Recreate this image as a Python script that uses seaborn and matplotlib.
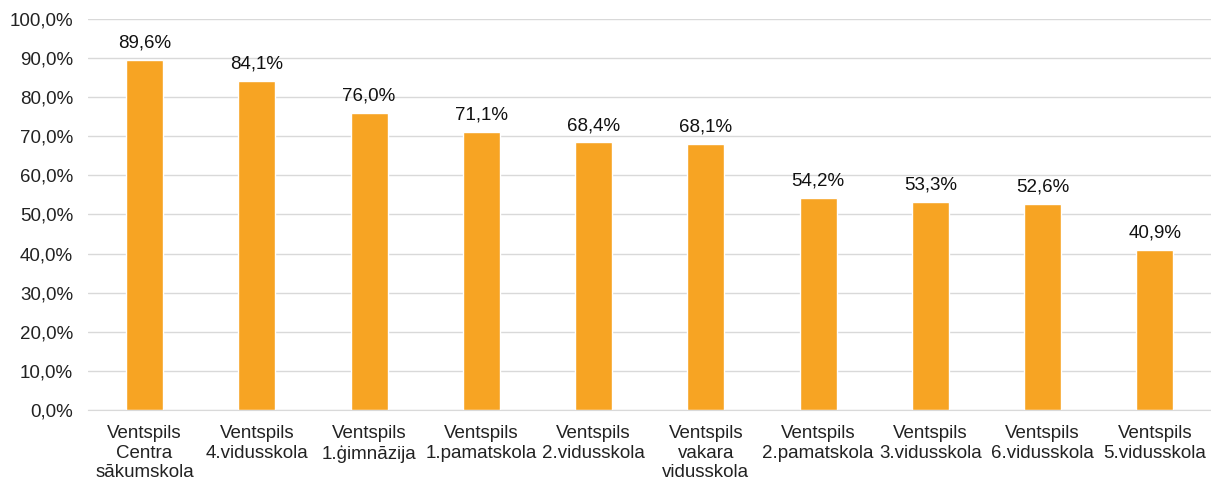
import matplotlib
matplotlib.use("Agg")
import matplotlib.pyplot as plt
import seaborn as sns
import pandas as pd
from matplotlib.ticker import FuncFormatter

# dati
skolas = ["Ventspils\nCentra\nsākumskola", "Ventspils\n4.vidusskola", "Ventspils\n1.ģimnāzija",
          "Ventspils\n1.pamatskola", "Ventspils\n2.vidusskola", "Ventspils\nvakara\nvidusskola",
          "Ventspils\n2.pamatskola", "Ventspils\n3.vidusskola", "Ventspils\n6.vidusskola",
          "Ventspils\n5.vidusskola"]
vertibas = [89.6, 84.1, 76.0, 71.1, 68.4, 68.1, 54.2, 53.3, 52.6, 40.9]

df = pd.DataFrame({"skola": skolas, "proc": vertibas})

sns.set_style("white")
plt.rcParams["font.family"] = ["Liberation Sans", "DejaVu Sans"]

fig = plt.figure(figsize=(12.11, 4.84), dpi=100)
ax = fig.add_axes([0.073, 0.153, 0.927, 0.808])

sns.barplot(data=df, x="skola", y="proc", color="#F7A423", width=0.33, ax=ax, saturation=1)

ax.set_ylim(0, 100)
ax.set_yticks(range(0, 101, 10))
ax.yaxis.set_major_formatter(FuncFormatter(lambda v, p: f"{v:.1f}%".replace(".", ",")))
ax.grid(axis="y", color="#D9D9D9", linewidth=1)
ax.set_axisbelow(True)
for s in ["top", "right", "left"]:
    ax.spines[s].set_visible(False)
ax.spines["bottom"].set_color("#D9D9D9")
ax.set_xlabel("")
ax.set_ylabel("")
ax.tick_params(axis="both", length=0, labelsize=13.5, colors="#222222")
ax.tick_params(axis="y", pad=11)
ax.tick_params(axis="x", pad=11)
for t in ax.get_xticklabels():
    t.set_linespacing(1.18)

for c in ax.containers:
    ax.bar_label(c, labels=[f"{v:.1f}%".replace(".", ",") for v in vertibas], padding=6, fontsize=13.5, color="#111111")

fig.savefig("out.png", dpi=100)
